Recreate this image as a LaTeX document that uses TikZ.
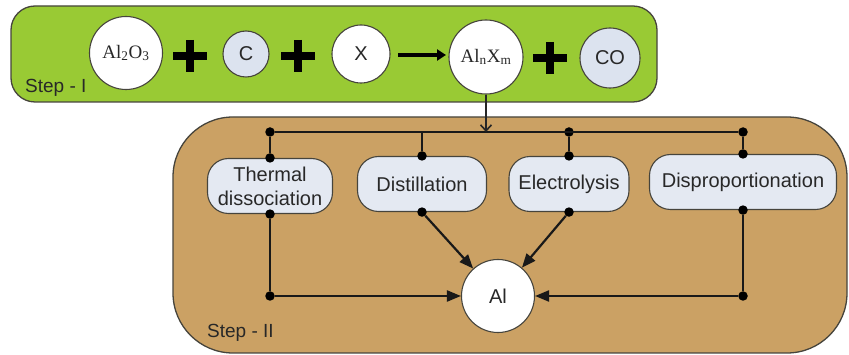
\documentclass[tikz,border=0pt]{standalone}
\usepackage{fontspec}
\setmainfont{Liberation Sans}
\newfontfamily\tnr{Liberation Serif}
\usetikzlibrary{arrows.meta}
\definecolor{stepgreen}{RGB}{153,202,52}
\definecolor{stepbrown}{RGB}{203,161,100}
\definecolor{boxfill}{RGB}{228,233,242}
\definecolor{cfill}{RGB}{220,227,239}
\definecolor{edgegray}{RGB}{70,68,60}
\definecolor{txt}{RGB}{40,40,40}
\begin{document}
\begin{tikzpicture}[x=1pt,y=-1pt,
  every node/.style={text=txt},
  panel/.style={draw=edgegray,line width=1.3pt},
  species/.style={circle,draw=edgegray,line width=1.1pt,fill=white,inner sep=0pt,font=\fontsize{20}{22}\selectfont},
  chem/.style={font=\tnr\fontsize{19}{21}\selectfont},
  process/.style={rectangle,rounded corners=21pt,draw=edgegray,line width=1.1pt,fill=boxfill,inner sep=0pt,minimum height=55pt,align=center,font=\fontsize{20}{24}\selectfont},
  jdot/.style={circle,fill=black,inner sep=0pt,minimum size=9.5pt},
  link/.style={line width=2.2pt,draw=black!90},
  tip/.style={-{Triangle[length=14pt,width=11pt]}},
  steplabel/.style={font=\fontsize{19}{21}\selectfont,anchor=west,inner sep=0pt},
  plusbar/.style={line width=8.5pt,draw=black},
]
\useasboundingbox (0,0) rectangle (849,355);
% panels
\draw[panel,fill=stepgreen,rounded corners=24pt] (11,6) rectangle (657,102);
\draw[panel,fill=stepbrown,rounded corners=60pt] (173,117) rectangle (847,353);
\node[steplabel] (s1) at (25,88) {Step - I};
\node[steplabel] (s2) at (207,333) {Step - II};
% step I species
\node[species,chem,minimum size=73pt] (alo) at (126,53) {Al\textsubscript{2}O\textsubscript{3}};
\node[species,fill=cfill,minimum size=46pt] (c) at (246,54) {C};
\node[species,minimum size=58pt] (xx) at (361,54) {X};
\node[species,chem,minimum size=74pt] (alnxm) at (486,57) {Al\textsubscript{n}X\textsubscript{m}};
\node[species,fill=cfill,minimum size=60pt] (co) at (610,58) {CO};
\foreach \px/\py in {190/56,298/56,550/58}
  \draw[plusbar] ({\px-17},\py) -- ({\px+17},\py) (\px,{\py-16}) -- (\px,{\py+16});
\coordinate (rs) at (398,55);
\coordinate (re) at (446,55);
\draw[line width=3.2pt,-{Triangle[length=9pt,width=11pt]}] (rs) -- (re);
% step II processes
\node[process,minimum width=125pt] (thermal) at (270,186) {Thermal\\dissociation};
\node[process,minimum width=129pt] (distil) at (422,184) {Distillation};
\node[process,minimum width=120pt] (electro) at (569,184) {Electrolysis};
\node[process,minimum width=187pt] (dispro) at (743,182) {Disproportionation};
\node[species,minimum size=73pt] (al) at (498,296) {Al};
% bus
\node[jdot] (bT) at (270,132) {};
\coordinate (bS) at (422,132);
\coordinate (bA) at (486,132);
\node[jdot] (bE) at (569,132) {};
\node[jdot] (bD) at (743,132) {};
\draw[link] (bT) -- (bD);
\draw[line width=1.6pt,draw=black!85,-{Straight Barb[length=6pt,width=11pt]}] (alnxm) -- (bA);
% node dots
\node[jdot] (tT) at (thermal.north) {};
\node[jdot] (tS) at (distil.north) {};
\node[jdot] (tE) at (electro.north) {};
\node[jdot] (tD) at (dispro.north) {};
\node[jdot] (uT) at (thermal.south) {};
\node[jdot] (uS) at (distil.south) {};
\node[jdot] (uE) at (electro.south) {};
\node[jdot] (uD) at (dispro.south) {};
\draw[link] (bT) -- (tT);
\draw[link] (bS) -- (tS);
\draw[link] (bE) -- (tE);
\draw[link] (bD) -- (tD);
% to Al
\node[jdot] (cL) at (270,296) {};
\node[jdot] (cR) at (743,296) {};
\draw[link] (uT) -- (cL);
\draw[link] (uD) -- (cR);
\draw[link,tip] (cL) -- (al);
\draw[link,tip] (cR) -- (al);
\draw[link,tip] (uS) -- (al);
\draw[link,tip] (uE) -- (al);
\end{tikzpicture}
\end{document}
